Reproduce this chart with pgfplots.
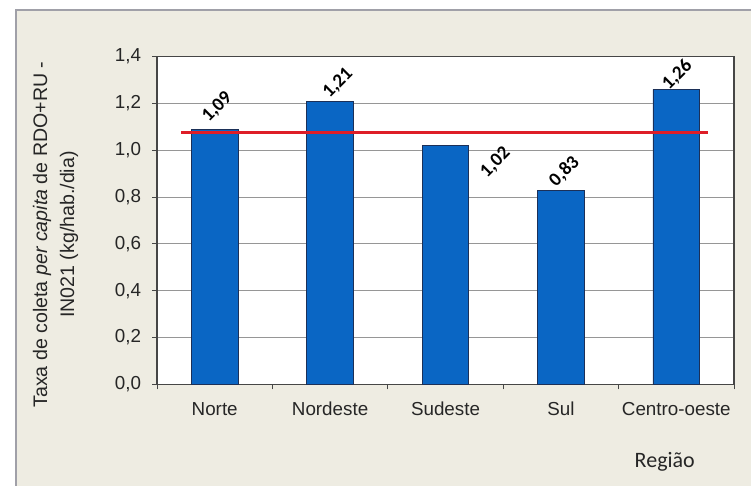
\documentclass[border=0pt]{standalone}
\usepackage{pgfplots}
\pgfplotsset{compat=1.18}
\usepackage{pgfplotstable}
\usepackage{fontspec}
\setmainfont{Liberation Sans}
\newfontfamily\calib{Carlito}
\definecolor{bgc}{RGB}{238,236,226}
\definecolor{framec}{RGB}{160,160,168}
\definecolor{barblue}{RGB}{10,102,196}
\definecolor{baredge}{RGB}{28,48,88}
\definecolor{avgred}{RGB}{222,30,40}
\definecolor{gridc}{RGB}{150,150,150}
\definecolor{borderc}{RGB}{70,70,70}
\pgfplotstableread{
x y dx dy
0 1.09 2.5 22
1 1.21 8 18
2 1.02 50 -17
3 0.83 3.5 18.5
4 1.26 1 14.5
}\datatable
\begin{document}
\begin{tikzpicture}
\path[use as bounding box] (0pt,0pt) rectangle (751pt,486pt);
\fill[white] (0pt,0pt) rectangle (751pt,486pt);
\fill[bgc] (16pt,0pt) rectangle (751pt,476pt);
\draw[framec, line width=2pt] (16pt,0pt) -- (16pt,476pt) -- (751pt,476pt);
\begin{axis}[
  at={(157pt,101.7pt)}, anchor=south west,
  scale only axis, width=577pt, height=327.6pt,
  xmin=-0.5, xmax=4.5, ymin=0, ymax=1.4,
  xtick={0,1,2,3,4},
  xticklabels={Norte,Nordeste,Sudeste,Sul,Centro-oeste},
  minor xtick={-0.5,0.5,1.5,2.5,3.5,4.5},
  ytick={0,0.2,0.4,0.6,0.8,1.0,1.2,1.4},
  xtick pos=bottom, ytick pos=left,
  tick align=outside,
  major tick length=5pt, minor tick length=5pt,
  major x tick style={draw=none},
  tick style={draw=borderc, line width=1pt},
  minor tick style={draw=borderc, line width=1pt},
  ymajorgrids, grid style={draw=gridc, line width=1pt},
  axis line style={draw=borderc, line width=1.3pt},
  axis background/.style={fill=white},
  /pgf/number format/.cd, use comma, fixed, fixed zerofill, precision=1, assume math mode=true,
  /pgfplots/.cd,
  ticklabel style={font=\fontsize{18.8}{22}\selectfont, text=black!85},
  yticklabel style={xshift=-7.5pt},
  xticklabel style={yshift=-9.5pt},
  ylabel={Taxa de coleta \textit{per capita} de RDO+RU -\\IN021 (kg/hab./dia)},
  ylabel style={font=\fontsize{19.6}{27}\selectfont, align=center, text=black!85,
    at={(axis description cs:-0.176,0.457)}, anchor=center},
  xlabel={Região},
  xlabel style={font=\calib\fontsize{22}{25}\selectfont, text=black!85,
    at={(axis description cs:0.880,-0.255)}, anchor=base},
  clip=false,
]
\addplot[ybar, bar width=46.7pt, fill=barblue, draw=baredge, line width=0.9pt,
  nodes near coords={\calib\bfseries\fontsize{19}{22}\selectfont\pgfmathprintnumber[assume math mode=true,use comma,fixed,fixed zerofill,precision=2]{\pgfplotspointmeta}},
  visualization depends on={\thisrow{dx}\as\mydx},
  visualization depends on={\thisrow{dy}\as\mydy},
  every node near coord/.append style={anchor=center, xshift=\mydx pt, yshift=\mydy pt, rotate=45, text=black, inner sep=0pt},
] table[x=x,y=y] {\datatable};
\addplot[avgred, line width=3.5pt, line cap=butt, mark=none] coordinates {(-0.292,1.075) (4.275,1.075)};
\end{axis}
\end{tikzpicture}
\end{document}
